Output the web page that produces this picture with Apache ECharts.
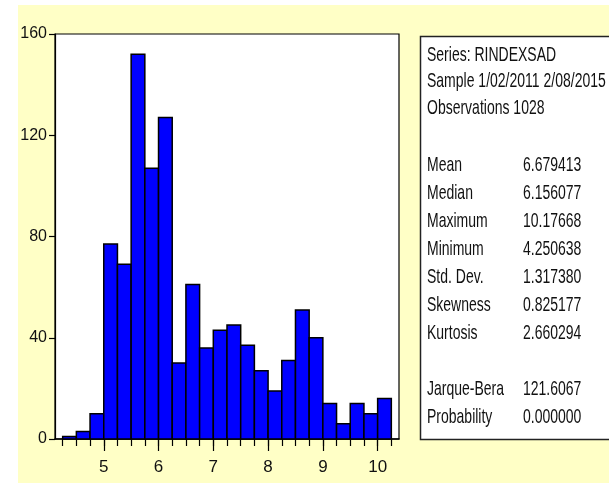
<!DOCTYPE html>
<html>
<head>
<meta charset="utf-8">
<script src="https://cdn.jsdelivr.net/npm/echarts@6/dist/echarts.min.js"></script>
<style>
html,body{margin:0;padding:0;background:#fff;}
#wrap{position:relative;width:609px;height:483px;overflow:hidden;background:#fff;}
#bg{position:absolute;left:18px;top:5px;right:0;bottom:0;background:#FFFFC6;}
#chart{position:absolute;left:0;top:0;width:609px;height:483px;}
</style>
</head>
<body>
<div id="wrap"><div id="bg"></div><div id="chart"></div></div>
<script>
// Histogram bins (left edges / right edges) and counts
const binLeft  = [4.25,4.50,4.75,5.00,5.25,5.50,5.75,6.00,6.25,6.50,6.75,7.00,7.25,7.50,7.75,8.00,8.25,8.50,8.75,9.00,9.25,9.50,9.75,10.00];
const binRight = [4.50,4.75,5.00,5.25,5.50,5.75,6.00,6.25,6.50,6.75,7.00,7.25,7.50,7.75,8.00,8.25,8.50,8.75,9.00,9.25,9.50,9.75,10.00,10.25];
const counts   = [1,3,10,77,69,152,107,127,30,61,36,43,45,37,27,19,31,51,40,14,6,14,10,16];
const xTickLabels = [5,6,7,8,9,10];
const xMinorTicks = [4.25,4.5,4.75,5,5.25,5.5,5.75,6,6.25,6.5,6.75,7,7.25,7.5,7.75,8,8.25,8.5,8.75,9,9.25,9.5,9.75,10,10.25];
const yTicks = [0,40,80,120,160];

const headerLines = ['Series: RINDEXSAD','Sample 1/02/2011 2/08/2015','Observations 1028'];
const statNames  = ['Mean','Median','Maximum','Minimum','Std. Dev.','Skewness','Kurtosis'];
const statValues = ['6.679413','6.156077','10.17668','4.250638','1.317380','0.825177','2.660294'];
const testNames  = ['Jarque-Bera','Probability'];
const testValues = ['121.6067','0.000000'];

const FONT_FAMILY = '"Liberation Sans",Arial,sans-serif';
const TXT = '#111';

const histData = counts.map((c,i)=>[binLeft[i], binRight[i], c]);

// stats box text
const g = [];
g.push({type:'rect', shape:{x:420.5,y:36.5,width:220,height:403}, style:{fill:'#fff',stroke:'#222',lineWidth:1.5}, z:1});
const textStyle = (t)=>({text:t, fill:TXT, font:'14px '+FONT_FAMILY, textVerticalAlign:'middle', textAlign:'left'});
const SY = 1.38;
const headerY = [56,82,109];
headerLines.forEach((t,i)=>g.push({type:'text', x:427, y:headerY[i], scaleY:SY, style:textStyle(t), z:2}));
const statY = [166,194,222,250,278,306,334];
statNames.forEach((t,i)=>{
  g.push({type:'text', x:427, y:statY[i], scaleY:SY, style:textStyle(t), z:2});
  g.push({type:'text', x:523, y:statY[i], scaleY:SY, style:textStyle(statValues[i]), z:2});
});
const testY = [390,418];
testNames.forEach((t,i)=>{
  g.push({type:'text', x:427, y:testY[i], scaleY:SY, style:textStyle(t), z:2});
  g.push({type:'text', x:523, y:testY[i], scaleY:SY, style:textStyle(testValues[i]), z:2});
});

const chart = echarts.init(document.getElementById('chart'), null, {renderer:'canvas'});
chart.setOption({
  backgroundColor:'transparent',
  animation:false,
  grid:{left:55, top:34, right:210, bottom:44, show:true, backgroundColor:'#fff', borderColor:'#000', borderWidth:1.2},
  xAxis:[{
    type:'value', min:4.11, max:10.39, position:'bottom',
    axisLine:{show:true, lineStyle:{color:'#000', width:1.5}},
    axisTick:{show:true, inside:false, length:12, customValues:xTickLabels, lineStyle:{color:'#000', width:1.2}},
    axisLabel:{show:true, customValues:xTickLabels, margin:20, color:TXT, fontSize:17, fontFamily:FONT_FAMILY},
    splitLine:{show:false}
  },{
    type:'value', min:4.11, max:10.39, position:'bottom', offset:0,
    axisLine:{show:false},
    axisTick:{show:true, inside:false, length:7, customValues:xMinorTicks, lineStyle:{color:'#000', width:1.2}},
    axisLabel:{show:false},
    splitLine:{show:false}
  }],
  yAxis:{
    type:'value', min:0, max:160, interval:40,
    axisLine:{show:true, lineStyle:{color:'#000', width:1.2}},
    axisTick:{show:true, inside:false, length:6, lineStyle:{color:'#000', width:1.2}},
    axisLabel:{margin:8, color:TXT, fontSize:16, fontFamily:FONT_FAMILY},
    splitLine:{show:false}
  },
  graphic:g,
  series:[{
    type:'custom',
    xAxisIndex:0,
    data:histData,
    encode:{x:[0,1], y:2},
    renderItem:function(params, api){
      const p0 = api.coord([api.value(0), api.value(2)]);
      const p1 = api.coord([api.value(1), 0]);
      return {type:'rect', shape:{x:p0[0], y:p0[1], width:p1[0]-p0[0], height:p1[1]-p0[1]},
        style:{fill:'#0000FF', stroke:'#000', lineWidth:1.5}};
    }
  }]
});
</script>
</body>
</html>
